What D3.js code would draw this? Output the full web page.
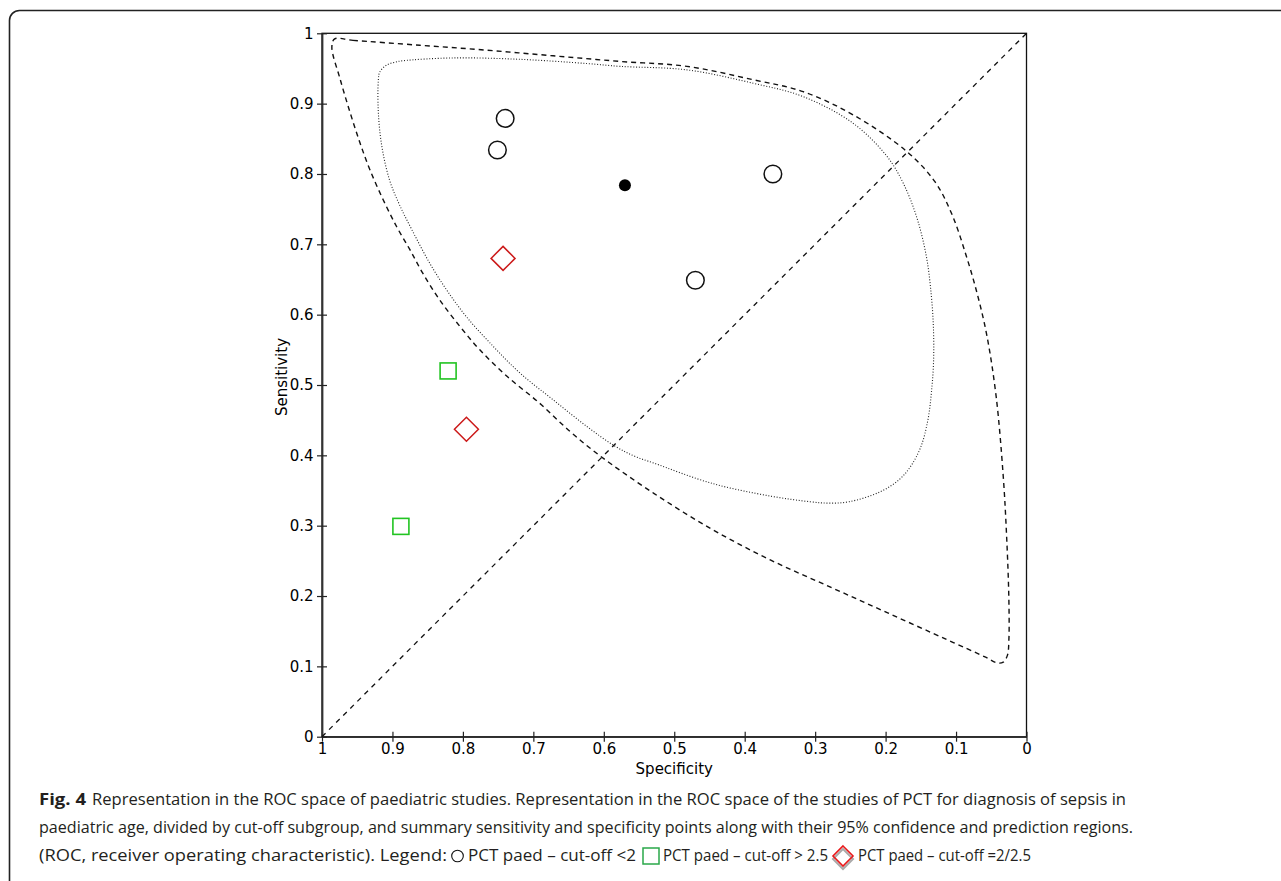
<!DOCTYPE html>
<html><head><meta charset="utf-8">
<script src="https://cdn.jsdelivr.net/npm/d3@7"></script>
<style>body{margin:0;background:#fff} svg{display:block}</style>
</head><body>
<svg id="chart" width="1281" height="881"></svg>
<script>
// ---- data ----
const xTickValues = [1, 0.9, 0.8, 0.7, 0.6, 0.5, 0.4, 0.3, 0.2, 0.1, 0];
const xTickLabels = ["1", "0.9", "0.8", "0.7", "0.6", "0.5", "0.4", "0.3", "0.2", "0.1", "0"];
const yTickValues = [0, 0.1, 0.2, 0.3, 0.4, 0.5, 0.6, 0.7, 0.8, 0.9, 1];
const yTickLabels = ["0", "0.1", "0.2", "0.3", "0.4", "0.5", "0.6", "0.7", "0.8", "0.9", "1"];

// [specificity, sensitivity]
const cutoffLt2 = [[0.740, 0.879], [0.751, 0.834], [0.360, 0.800], [0.470, 0.649]];
const cutoffGt25 = [[0.821, 0.520], [0.888, 0.299]];
const cutoff2to25 = [[0.743, 0.680], [0.795, 0.437]];
const summaryPoint = [[0.570, 0.784]];
const chanceLine = [[1, 0], [0, 1]];

const predictionRegion = [
  [0.982, 0.992], [0.956, 0.990], [0.861, 0.983], [0.766, 0.976], [0.672, 0.968],
  [0.577, 0.960], [0.482, 0.953], [0.388, 0.934], [0.317, 0.917], [0.246, 0.884],
  [0.170, 0.832], [0.130, 0.789], [0.106, 0.743], [0.085, 0.682], [0.069, 0.626],
  [0.056, 0.569], [0.043, 0.483], [0.033, 0.370], [0.028, 0.280], [0.025, 0.194],
  [0.025, 0.138], [0.027, 0.116], [0.033, 0.106], [0.042, 0.105], [0.058, 0.113],
  [0.113, 0.138], [0.197, 0.176], [0.279, 0.213], [0.363, 0.251], [0.445, 0.294],
  [0.529, 0.346], [0.605, 0.399], [0.648, 0.434], [0.691, 0.474], [0.737, 0.512],
  [0.776, 0.550], [0.804, 0.583], [0.833, 0.621], [0.857, 0.659], [0.875, 0.692],
  [0.894, 0.725], [0.913, 0.763], [0.932, 0.806], [0.946, 0.844], [0.960, 0.887],
  [0.974, 0.934], [0.986, 0.981]
];

const confidenceRegion = [
  [0.920, 0.934], [0.918, 0.945], [0.908, 0.955], [0.896, 0.959], [0.885, 0.961],
  [0.814, 0.965], [0.719, 0.963], [0.624, 0.957], [0.577, 0.953], [0.482, 0.948],
  [0.388, 0.929], [0.317, 0.910], [0.246, 0.872], [0.198, 0.825], [0.175, 0.787],
  [0.156, 0.739], [0.142, 0.682], [0.135, 0.626], [0.132, 0.578], [0.132, 0.531],
  [0.135, 0.489], [0.140, 0.450], [0.150, 0.412], [0.164, 0.385], [0.180, 0.366],
  [0.208, 0.348], [0.252, 0.334], [0.280, 0.332], [0.307, 0.334], [0.363, 0.342],
  [0.446, 0.360], [0.529, 0.389], [0.557, 0.399], [0.584, 0.413], [0.624, 0.441],
  [0.672, 0.479], [0.719, 0.517], [0.757, 0.555], [0.795, 0.597], [0.823, 0.635],
  [0.847, 0.673], [0.870, 0.716], [0.889, 0.754], [0.904, 0.791], [0.915, 0.839],
  [0.920, 0.887]
];

const captionLines = [
  "Representation in the ROC space of paediatric studies. Representation in the ROC space of the studies of PCT for diagnosis of sepsis in",
  "paediatric age, divided by cut-off subgroup, and summary sensitivity and specificity points along with their 95% confidence and prediction regions.",
  "(ROC, receiver operating characteristic). Legend:"
];
const legendLabels = ["PCT paed \u2013 cut-off <2", "PCT paed \u2013 cut-off > 2.5", "PCT paed \u2013 cut-off =2/2.5"];

// ---- drawing ----
const svg = d3.select("#chart");
const x = d3.scaleLinear().domain([1, 0]).range([322, 1026.5]);
const y = d3.scaleLinear().domain([0, 1]).range([736.7, 33.3]);
const tickFont = "'DejaVu Sans', Verdana, sans-serif";

// outer rounded frame
svg.append("rect").attr("x", 9.5).attr("y", 10.5).attr("width", 1300).attr("height", 900)
  .attr("rx", 10).attr("fill", "none").attr("stroke", "#222").attr("stroke-width", 1.6);

// plot frame (top/right)
svg.append("rect").attr("x", x(1)).attr("y", y(1)).attr("width", x(0) - x(1)).attr("height", y(0) - y(1))
  .attr("fill", "none").attr("stroke", "#111").attr("stroke-width", 1.3);

// axes
const xAxis = d3.axisBottom(x).tickValues(xTickValues).tickFormat((d, i) => xTickLabels[i])
  .tickSizeInner(5).tickSizeOuter(0).tickPadding(2);
const gx = svg.append("g").attr("transform", `translate(0,${y(0)})`).call(xAxis);
gx.selectAll(".tick line").attr("y1", -5).attr("y2", 5);
const yAxis = d3.axisLeft(y).tickValues(yTickValues).tickFormat((d, i) => yTickLabels[i])
  .tickSizeInner(5).tickSizeOuter(0).tickPadding(3.5);
const gy = svg.append("g").attr("transform", `translate(${x(1)},0)`).call(yAxis);
gy.selectAll(".tick line").attr("x1", 5).attr("x2", -5);
[gx, gy].forEach(g => {
  g.select(".domain").attr("stroke", "#333").attr("stroke-width", 1.8);
  g.selectAll(".tick line").attr("stroke", "#222").attr("stroke-width", 1.2);
  g.selectAll(".tick text").attr("font-family", tickFont).attr("font-size", 15).attr("fill", "#000");
});

// axis titles
svg.append("text").attr("x", (x(1) + x(0)) / 2).attr("y", 774).attr("text-anchor", "middle")
  .attr("font-family", tickFont).attr("font-size", 15).attr("fill", "#000").text("Specificity");
svg.append("text").attr("transform", `translate(287,${(y(0) + y(1)) / 2 - 8}) rotate(-90)`)
  .attr("text-anchor", "middle").attr("font-family", tickFont).attr("font-size", 15).attr("fill", "#000")
  .text("Sensitivity");

const line = d3.line().x(d => x(d[0])).y(d => y(d[1]));
const closed = d3.line().x(d => x(d[0])).y(d => y(d[1])).curve(d3.curveCatmullRomClosed.alpha(0.5));

// chance diagonal
svg.append("path").attr("d", line(chanceLine)).attr("fill", "none").attr("stroke", "#111")
  .attr("stroke-width", 1.3).attr("stroke-dasharray", "5,5");
// prediction region (dashed)
svg.append("path").attr("d", closed(predictionRegion)).attr("fill", "none").attr("stroke", "#111")
  .attr("stroke-width", 1.4).attr("stroke-dasharray", "5,4");
// confidence region (dotted)
svg.append("path").attr("d", closed(confidenceRegion)).attr("fill", "none").attr("stroke", "#222")
  .attr("stroke-width", 1.1).attr("stroke-dasharray", "1,1.8");

// points
svg.selectAll(".lt2").data(cutoffLt2).join("circle")
  .attr("cx", d => x(d[0])).attr("cy", d => y(d[1])).attr("r", 8.8)
  .attr("fill", "none").attr("stroke", "#111").attr("stroke-width", 1.5);
svg.selectAll(".sum").data(summaryPoint).join("circle")
  .attr("cx", d => x(d[0])).attr("cy", d => y(d[1])).attr("r", 6).attr("fill", "#000");
svg.selectAll(".gt25").data(cutoffGt25).join("rect")
  .attr("x", d => x(d[0]) - 8).attr("y", d => y(d[1]) - 8).attr("width", 16).attr("height", 16)
  .attr("fill", "none").attr("stroke", "#22c422").attr("stroke-width", 1.6);
const diamond = (cx, cy, r) => `M${cx},${cy - r}L${cx + r},${cy}L${cx},${cy + r}L${cx - r},${cy}Z`;
svg.selectAll(".d2").data(cutoff2to25).join("path")
  .attr("d", d => diamond(x(d[0]), y(d[1]), 12))
  .attr("fill", "none").attr("stroke", "#cc1a1a").attr("stroke-width", 1.5);

// caption
const capFont = "'Open Sans', 'Noto Sans', sans-serif";
const cap = svg.append("g").attr("font-family", capFont).attr("font-size", 16.5).attr("fill", "#231f20");
const capText = (xx, yy, len, txt, bold) => cap.append("text").attr("x", xx).attr("y", yy)
  .attr("textLength", len).attr("lengthAdjust", "spacingAndGlyphs")
  .attr("font-weight", bold ? "bold" : null).text(txt);
capText(39, 805, 47, "Fig. 4", true);
capText(92, 805, 1034, captionLines[0]);
capText(39, 833, 1094, captionLines[1]);
capText(39, 861, 408, captionLines[2]);
// legend glyphs
cap.append("circle").attr("cx", 457.5).attr("cy", 856).attr("r", 5.8).attr("fill", "none")
  .attr("stroke", "#111").attr("stroke-width", 1.1);
capText(468, 861, 168, legendLabels[0]);
cap.append("rect").attr("x", 643).attr("y", 848).attr("width", 16).attr("height", 16)
  .attr("fill", "none").attr("stroke", "#2aa84a").attr("stroke-width", 1.5);
capText(663, 861, 165, legendLabels[1]);
cap.append("path").attr("d", diamond(843, 859, 10)).attr("fill", "none").attr("stroke", "#aaa").attr("stroke-width", 2);
cap.append("path").attr("d", diamond(843, 856, 10)).attr("fill", "none").attr("stroke", "#e8191b").attr("stroke-width", 1.6);
capText(858, 861, 173, legendLabels[2]);
</script>
</body></html>
